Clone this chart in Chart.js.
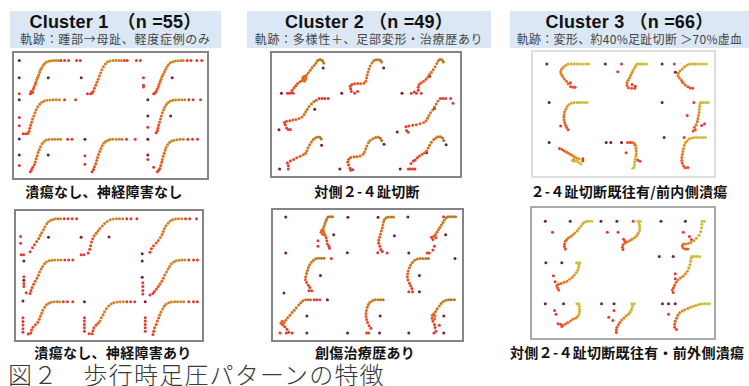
<!DOCTYPE html>
<html><head><meta charset="utf-8">
<script src="https://cdn.jsdelivr.net/npm/chart.js@4.4.1/dist/chart.umd.min.js"></script>
<style>
html,body{margin:0;padding:0;background:#fff;}
body{width:749px;height:386px;position:relative;overflow:hidden;font-family:"Noto Sans CJK JP","Liberation Sans",sans-serif;}
.hdr{position:absolute;background:#dbe7f4;height:37px;top:11px;}
.ttl{position:absolute;left:0;right:0;top:1px;text-align:center;font:bold 18px "Liberation Sans","Noto Sans CJK JP",sans-serif;line-height:20px;color:#111;letter-spacing:0.2px;}
.sub{position:absolute;left:0;right:0;top:21px;text-align:center;font:12px "Noto Sans CJK JP",sans-serif;line-height:14px;color:#444;letter-spacing:0.7px;white-space:nowrap;}
.pan{position:absolute;box-sizing:border-box;border:2px solid #858585;background:#fff;}
.pan canvas{display:block;}
.lab{position:absolute;width:300px;text-align:center;font:bold 14px "Noto Sans CJK JP",sans-serif;line-height:16px;color:#111;letter-spacing:0.3px;white-space:nowrap;}
.cap{position:absolute;left:8px;top:361px;font:24px "Noto Sans CJK JP",sans-serif;line-height:26px;color:#3a3a3a;letter-spacing:1.2px;white-space:nowrap;font-weight:300;}
</style></head>
<body>
<div class="hdr" style="left:10px;width:211px;"><div class="ttl">Cluster 1　（n =55）</div><div class="sub">軌跡：踵部→母趾、軽度症例のみ</div></div>
<div class="hdr" style="left:247px;width:244px;"><div class="ttl">Cluster 2 （n =49）</div><div class="sub">軌跡：多様性＋、足部変形・治療歴あり</div></div>
<div class="hdr" style="left:510px;width:239px;"><div class="ttl">Cluster 3 （n =66）</div><div class="sub" style="letter-spacing:0.3px">軌跡：変形、約40%足趾切断 ＞70%虚血</div></div>

<div class="pan" style="left:12px;top:51px;width:197px;height:129px;"><canvas id="p1a" width="193" height="125"></canvas></div>
<div class="pan" style="left:14px;top:209px;width:190px;height:133px;"><canvas id="p1b" width="186" height="129"></canvas></div>
<div class="pan" style="left:270px;top:51px;width:192px;height:127px;"><canvas id="p2a" width="188" height="123"></canvas></div>
<div class="pan" style="left:271px;top:208px;width:193px;height:134px;"><canvas id="p2b" width="189" height="130"></canvas></div>
<div class="pan" style="left:531px;top:50px;width:185px;height:128px;border-color:#dedede;"><canvas id="p3a" width="181" height="124"></canvas></div>
<div class="pan" style="left:530px;top:206px;width:186px;height:134px;border-color:#a9a9a9;"><canvas id="p3b" width="182" height="130"></canvas></div>

<div class="lab" style="left:-46px;top:183px;">潰瘍なし、神経障害なし</div>
<div class="lab" style="left:-37px;top:344px;">潰瘍なし、神経障害あり</div>
<div class="lab" style="left:217px;top:183px;">対側２-４趾切断</div>
<div class="lab" style="left:215px;top:344px;">創傷治療歴あり</div>
<div class="lab" style="left:479px;top:183px;">２-４趾切断既往有/前内側潰瘍</div>
<div class="lab" style="left:510px;top:344px;width:auto;text-align:left;">対側２-４趾切断既往有・前外側潰瘍</div>
<div class="cap">図２　歩行時足圧パターンの特徴</div>

<script>
// ---- data: each panel = 8 cells (TL,TC,TR,ML,MR,BL,BC,BR); points are flat x,y pairs in cell units (0-10) ----
const c1a_paths = [
 [2.0,0.55,2.2,0.8,2.4,1.0,2.15,1.2,2.5,1.8,2.6,2.4,2.8,3.0,2.9,3.5,3.05,4.2,3.2,4.8,3.35,5.4,3.5,6.1,3.65,6.7,3.85,7.2,4.05,7.8,4.3,8.3,4.6,8.7,5.0,8.9,5.4,9.05,5.8,9.1,6.2,9.1,6.55,9.1],
 [1.8,0.55,2.0,0.8,2.2,1.2,2.4,2.0,2.6,2.75,2.8,3.5,3.0,4.3,3.2,5.1,3.4,5.9,3.6,6.7,3.85,7.5,4.15,8.2,4.5,8.7,4.9,9.0,5.4,9.1,5.85,9.1,6.35,9.1,6.75,9.1],
 [2.0,0.55,2.25,0.8,2.4,1.2,2.6,1.8,2.75,2.45,2.9,3.1,3.05,3.7,3.2,4.3,3.35,5.0,3.55,5.6,3.75,6.2,3.95,6.85,4.15,7.5,4.4,8.0,4.7,8.5,5.1,8.8,5.5,9.0,5.95,9.05,6.4,9.1,6.8,9.1],
 [0.85,0.3,1.25,0.3,1.6,0.4,1.8,0.95,1.9,1.7,2.05,2.5,2.2,3.3,2.35,4.1,2.55,4.9,2.75,5.7,2.95,6.5,3.2,7.25,3.5,7.9,3.85,8.4,4.25,8.75,4.7,8.9,5.2,9.0,5.7,9.05,6.2,9.05,6.7,9.05],
 [2.4,0.55,2.6,1.1,2.7,1.75,2.8,2.5,2.95,3.3,3.1,4.1,3.25,4.9,3.4,5.7,3.6,6.45,3.8,7.15,4.05,7.8,4.35,8.35,4.7,8.75,5.1,8.9,5.55,9.0,6.05,9.05,6.55,9.05,7.05,9.05],
 [2.0,0.6,2.2,1.15,2.4,1.7,2.65,2.35,2.8,3.1,2.95,3.9,3.1,4.7,3.25,5.5,3.45,6.25,3.65,7.0,3.9,7.75,4.2,8.3,4.55,8.7,5.0,8.85,5.5,8.9,5.95,8.9,6.45,8.9,6.9,8.9],
 [2.0,0.6,2.25,1.15,2.4,1.85,2.6,2.65,2.75,3.45,2.9,4.2,3.05,5.0,3.25,5.8,3.45,6.55,3.65,7.25,3.9,7.9,4.2,8.35,4.55,8.65,4.95,8.85,5.4,8.9,5.95,8.9,6.45,8.9,6.9,8.9],
 [2.6,0.6,2.8,0.95,3.0,1.4,3.15,2.2,3.3,3.0,3.4,3.75,3.55,4.55,3.7,5.3,3.85,6.1,4.0,6.8,4.25,7.5,4.55,8.05,4.9,8.45,5.3,8.65,5.8,8.8,6.3,8.9,6.8,8.9]
];
const c1a_red = [
 [6.95,9.1,7.56,9.1,8.2,9.1,9.5,9.1,10.1,9.1,0.2,0.55],
 [1.27,0.55,7.25,9.1,7.7,9.1,9.2,9.1,9.85,9.1],
 [7.45,9.1,8.05,9.1,9.0,9.1,9.8,9.1,0.35,2.75,0.35,2.3,0.35,4.7],
 [7.55,9.05,9.35,9.05,0.2,4.5,0.2,2.35],
 [7.7,9.05,8.4,9.05,9.6,9.05,1.05,2.0],
 [8.05,8.9,8.75,8.9,0.2,2.2],
 [7.6,8.9,9.0,8.9,0.85,2.5,0.85,4.7],
 [7.55,8.9,8.3,8.9,9.1,8.9,1.05,3.7,2.0,1.7]
];
const c1a_dark = [
 [0.2,9.1,0.2,4.7,4.9,4.7],[0.25,4.7],[5.0,4.7],[0.2,9.05],
 [1.05,9.05,1.05,4.9,4.75,4.9],[0.2,9.0,0.2,4.85,4.9,4.85],[0.85,8.9],[1.05,8.9,1.05,4.85]
];

const c1b_paths = [
 [1.7,0.9,2.1,1.9,2.45,2.65,2.8,3.4,3.15,4.2,3.4,4.9,3.65,5.6,3.95,6.35,4.2,7.1,4.5,7.8,4.8,8.3,5.2,8.7,5.6,8.9,6.0,9.1,6.45,9.1,6.85,9.1],
 [1.5,0.6,1.75,1.5,1.9,2.4,2.05,3.3,2.25,4.1,2.5,4.85,2.85,5.45,3.15,6.05,3.45,6.65,3.85,7.3,4.25,7.9,4.7,8.4,5.2,8.8,5.7,9.0,6.25,9.1,6.75,9.1,7.3,9.1],
 [1.9,0.75,2.15,1.65,2.5,2.4,2.95,3.05,3.3,3.65,3.65,4.4,3.95,5.15,4.15,5.9,4.35,6.65,4.6,7.35,4.95,7.95,5.3,8.5,5.7,8.8,6.2,9.0,6.7,9.1,7.25,9.1],
 [1.7,0.55,1.85,1.3,2.05,2.05,2.3,2.8,2.55,3.55,2.85,4.3,3.1,5.05,3.3,5.85,3.55,6.6,3.8,7.25,4.1,7.9,4.45,8.35,4.9,8.65,5.35,8.8,5.85,8.85,6.4,8.85,6.9,8.85],
 [2.4,0.55,2.65,1.05,3.0,1.65,3.3,2.3,3.6,2.9,3.9,3.55,4.15,4.3,4.4,5.1,4.7,5.85,4.95,6.6,5.2,7.25,5.5,7.9,5.9,8.35,6.3,8.65,6.8,8.8,7.3,8.85,7.8,8.85],
 [1.8,0.75,1.95,1.5,2.2,2.2,2.6,2.8,3.0,3.4,3.25,4.15,3.45,4.9,3.65,5.65,3.85,6.4,4.15,7.15,4.45,7.75,4.85,8.1,5.25,8.35,5.7,8.5,6.2,8.5,6.65,8.5],
 [2.15,0.55,2.3,1.3,2.45,2.05,2.8,2.65,3.15,3.15,3.45,3.75,3.7,4.5,4.0,5.25,4.25,6.0,4.55,6.75,4.95,7.45,5.35,7.95,5.8,8.25,6.35,8.4,6.85,8.5,7.4,8.5],
 [2.4,0.4,2.55,1.15,2.7,2.05,2.95,2.85,3.15,3.7,3.35,4.45,3.55,5.2,3.75,5.95,4.05,6.7,4.3,7.35,4.6,7.9,5.05,8.25,5.5,8.4,6.05,8.5,6.55,8.5,7.1,8.5,7.6,8.5]
];
const c1b_red = [
 [7.45,9.1,8.1,9.1,8.8,9.1,9.55,9.1,0.1,4.7,0.1,3.0,0.2,0.15,0.6,0.15],
 [8.0,9.1,8.7,9.1,9.7,9.1,0.3,0.15,0.75,0.15],
 [7.9,9.1,8.6,9.1,9.75,9.1],
 [7.55,8.85,8.2,8.85,8.9,8.85,0.65,4.7,0.65,3.0,0.65,2.3,1.05,0.75],
 [8.45,8.85,9.25,8.85,9.9,8.85,0.7,3.2,0.7,2.3,0.7,1.3,0.7,0.4,1.9,0.15],
 [7.3,8.5,8.0,8.5,8.9,8.5,0.5,4.5,0.5,3.6,0.5,2.7,0.5,1.8,0.5,0.9,1.4,0.5],
 [8.0,8.5,8.65,8.5,9.35,8.5,0.85,4.5,0.85,3.7,0.85,2.85,0.85,2.05,0.85,1.15,1.65,0.55],
 [8.45,8.5,9.25,8.5,9.9,8.5,1.1,4.5,1.1,3.7,1.1,2.85,1.1,2.05,1.1,1.15]
];
const c1b_dark = [
 [4.8,4.5],[0.3,4.5,5.0,4.55],[0.6,0.4],[0.65,8.6,0.65,3.8],
 [0.6,8.6,0.6,4.55],[0.5,8.65],[0.85,8.5],[1.1,8.5]
];

const c2a_paths = [
 [2.2,0.55,2.5,0.7,2.7,1.35,3.0,2.0,3.3,2.5,3.6,3.1,4.0,3.55,4.35,3.9,4.6,4.2,4.45,4.6,4.7,5.0,4.95,4.75,4.95,4.2,4.75,3.7,5.1,5.3,5.4,5.9,5.7,6.55,6.0,7.2,6.35,7.8,6.65,8.4,6.9,9.05,7.2,9.3,7.5,9.3,7.75,9.0,7.95,8.45],
 [2.45,1.75,2.35,2.35,2.65,2.85,3.1,3.0,3.6,3.1,4.1,3.0,4.65,3.15,4.95,3.7,5.1,4.5,5.2,5.3,5.35,6.1,5.5,6.85,5.7,7.65,6.0,8.45,6.3,9.05,6.7,9.3,7.1,9.3,7.4,9.15,7.6,8.7],
 [3.7,1.35,3.7,2.1,3.85,2.85,4.2,3.3,4.6,3.7,5.0,4.2,5.3,4.8,5.55,5.45,5.9,6.05,6.2,6.7,6.5,7.45,6.8,8.3,7.05,9.0,7.35,9.4,7.7,9.25,7.9,8.7],
 [1.55,2.3,1.4,2.9,1.75,3.25,2.3,3.4,2.8,3.55,3.3,3.7,3.85,3.95,4.35,4.35,4.7,5.0,4.95,5.7,5.2,6.4,5.5,7.1,5.9,7.75,6.3,8.3,6.7,8.7],
 [1.65,1.8,2.15,2.0,2.8,2.2,3.4,2.35,4.0,2.6,4.6,2.9,5.0,3.4,5.25,4.0,5.5,4.75,5.75,5.45,6.1,6.15,6.4,6.95,6.7,7.75,7.0,8.5],
 [1.9,2.35,2.4,2.85,2.95,3.25,3.45,3.7,4.0,4.1,4.55,4.5,4.95,4.9,5.15,5.55,5.35,6.3,5.6,7.1,5.9,7.8,6.2,8.45,6.55,8.9,6.9,9.15,7.3,9.05,7.55,8.6],
 [2.35,1.0,2.1,1.8,1.95,2.6,2.1,3.3,2.45,3.8,3.0,3.95,3.5,4.0,4.0,4.2,4.5,4.6,4.75,5.2,4.95,6.0,5.15,6.8,5.4,7.6,5.7,8.2,6.15,8.7,6.6,9.0,7.05,9.1,7.4,8.8,7.6,8.2],
 [3.2,3.15,3.55,3.7,3.9,4.2,4.35,4.6,4.75,5.0,5.1,5.5,5.35,6.25,5.6,7.0,5.9,7.75,6.3,8.45,6.65,8.9,7.0,9.2,7.4,9.2,7.75,8.85,7.95,8.2]
];
const c2a_red = [
 [1.9,0.55,2.85,0.55],
 [2.55,1.0,3.1,0.55,3.6,1.0],
 [2.55,0.55,3.05,0.85,3.4,0.55,4.2,0.55],
 [1.75,1.5,2.05,1.1,2.4,1.1,7.2,9.15,7.7,9.15,8.15,9.15,8.7,9.15],
 [1.75,0.85,2.05,0.4,7.4,9.15,7.85,9.15,8.3,9.15,9.1,9.15,9.5,7.95],
 [2.05,0.8,2.05,1.6],
 [2.45,0.45,2.8,0.6],
 [2.05,0.8,2.4,0.8,2.8,0.8,3.15,0.8,2.5,2.2,2.9,2.85]
];
const c2a_dark = [
 [0.9,0.55,7.85,7.1],[0.95,0.55,7.95,7.1],[1.0,0.55,5.6,5.0],[0.5,1.0,6.45,6.4],
 [0.2,0.45,6.4,6.55],[0.6,0.8,7.6,6.95],[0.65,0.8,8.0,7.25],[0.7,0.8,5.1,5.0,8.35,7.1]
];

const c2b_paths = [
 [8.6,2.05,8.35,2.65,8.25,3.4,8.15,4.15,7.95,4.75,7.55,5.05,7.3,5.5,7.4,5.95,7.7,5.8,7.8,5.25,7.65,6.35,7.8,7.0,7.95,7.6,8.1,8.2,8.25,8.8,8.45,9.25,8.8,9.35,9.2,9.35],
 [7.2,1.3,7.05,2.05,6.85,2.8,6.85,3.55,7.0,4.3,7.15,5.05,7.3,5.8,7.45,6.55,7.55,7.3,7.65,8.05,7.8,8.65,8.1,9.1,8.45,9.25,8.85,9.25,9.3,9.25],
 [5.85,3.75,5.6,4.3,6.0,4.5,6.35,4.15,6.25,4.9,6.5,5.5,6.75,6.1,7.0,6.7,7.25,7.3,7.5,7.9,7.75,8.5,8.05,9.05,8.35,9.35,8.75,9.35,9.2,9.35,9.6,9.35],
 [5.3,1.15,5.45,1.9,5.2,2.5,4.9,3.15,4.7,3.85,4.75,4.6,4.9,5.35,5.05,6.1,5.2,6.85,5.4,7.55,5.7,8.15,6.05,8.65,6.45,9.05,6.9,9.1,7.35,9.1,7.8,9.1],
 [2.35,1.65,2.15,2.35,1.95,3.0,1.7,3.75,1.6,4.5,1.65,5.25,1.75,6.0,1.95,6.8,2.15,7.45,2.45,8.05,2.8,8.6,3.25,8.95,3.7,9.05,4.15,9.05,4.65,9.05,5.1,9.05],
 [1.95,0.9,1.65,1.65,1.3,2.25,0.95,2.7,0.65,3.15,0.85,3.6,1.2,3.25,1.45,3.9,1.75,4.5,2.15,5.1,2.5,5.75,2.85,6.35,3.2,6.95,3.6,7.6,3.95,8.2,4.3,8.65,4.75,8.9,5.15,8.9,5.55,8.9],
 [5.55,1.9,5.25,2.55,5.0,3.3,4.85,4.05,4.75,4.8,4.75,5.55,4.8,6.3,4.95,7.1,5.15,7.75,5.4,8.3,5.8,8.65,6.2,8.9,6.7,8.9,7.15,8.9,7.6,8.9],
 [6.2,2.1,6.1,2.85,5.85,3.6,5.7,4.35,5.75,5.1,6.0,5.5,6.2,4.9,6.1,4.15,6.3,6.05,6.55,6.7,6.9,7.4,7.2,8.0,7.55,8.5,8.0,8.8,8.45,8.9,8.9,8.9,9.4,8.9]
];
const c2b_red = [
 [6.8,3.4,6.8,2.05,8.7,1.6],
 [6.7,0.5,7.45,0.75,8.25,0.4],
 [4.9,0.4,5.25,0.4,5.85,1.15,6.1,2.05,7.6,9.35],
 [5.75,1.15,9.0,9.05],
 [1.85,0.9,2.45,0.9],
 [0.5,0.75,1.55,0.75,2.5,0.75,6.15,8.9,6.6,8.9,7.1,8.9],
 [4.85,0.75,5.2,0.75],
 [6.0,0.75,6.35,1.15,6.9,2.65]
];
const c2b_dark = [
 [1.45,9.25,1.45,0.4,9.4,4.9],[1.75,9.2,6.75,9.2,1.65,0.5,9.45,4.65],[1.7,9.25,1.85,0.4,7.95,4.9],[1.15,0.55,7.2,4.9],
 [3.6,0.9,3.6,4.9,9.5,9.05],[4.95,4.9,4.95,0.75,8.35,8.9],[1.7,0.75,7.1,4.9,7.0,0.75],[1.85,0.75,7.65,4.9,7.65,0.75]
];

const c3a_paths = [
 [6.6,1.9,6.2,1.9,5.8,2.1,5.4,2.8,5.1,3.45,4.75,4.05,4.45,4.7,4.2,5.3,4.1,5.95,4.25,6.55,4.55,7.1,4.95,7.55,5.4,7.9,5.95,7.95,6.45,7.95,7.0,7.95,7.5,7.95,8.05,7.95,8.6,7.95,9.0,7.95],
 [6.95,1.65,6.4,1.65,5.85,1.8,5.6,2.4,5.6,3.1,5.8,3.75,6.05,4.4,6.25,5.0,6.45,5.65,6.65,6.25,6.9,6.9,7.1,7.5,7.35,7.9,7.8,7.95,8.2,7.95,8.6,7.95,9.05,7.95],
 [7.0,1.65,6.55,1.7,6.15,2.05,5.7,2.5,5.35,3.05,5.05,3.7,4.7,4.3,4.45,4.9,4.5,5.55,4.8,6.1,5.2,6.65,5.6,7.2,6.05,7.65,6.5,7.9,7.0,7.95,7.45,7.95,7.95,7.95,8.4,7.95,8.9,7.95,9.35,7.95],
 [5.4,0.95,5.15,1.5,4.95,2.1,4.8,2.8,4.7,3.5,4.65,4.2,4.7,4.9,4.8,5.6,5.0,6.25,5.2,6.9,5.5,7.4,5.95,7.8,6.4,7.95,6.9,7.95,7.35,7.95,7.85,7.95,8.3,7.95,8.7,7.95],
 [7.1,0.6,7.45,0.95,7.3,1.55,7.6,2.25,7.8,3.05,7.9,3.85,8.0,4.6,8.1,5.4,8.15,6.15,8.2,6.95,8.25,7.65,8.4,7.95,8.85,7.95,9.25,7.95,9.7,7.95],
 [3.9,6.1,4.35,5.8,4.7,5.45,5.1,5.15,5.45,4.85,5.85,4.55,6.2,4.2,6.55,3.9,6.95,3.6,7.3,3.35,6.35,3.3,6.15,2.95,6.45,2.8,6.8,2.95,7.1,2.65,7.4,2.35,7.65,2.05],
 [5.7,7.6,6.1,7.6,6.45,7.6,6.85,7.4,7.05,6.9,7.15,6.15,7.2,5.45,7.2,4.75,7.15,4.05,7.05,3.35,6.95,2.65,6.9,1.95,6.85,1.25,6.6,0.95],
 [6.15,1.15,5.7,1.1,5.4,1.55,5.2,2.25,5.1,2.95,5.1,3.75,5.2,4.55,5.3,5.3,5.4,6.1,5.55,6.9,5.75,7.6,6.05,8.1,6.4,8.6,6.85,8.8,7.3,8.9,7.8,8.9,8.25,8.9,8.75,8.9,9.2,8.9]
];
const c3a_red = [
 [5.8,3.1],[4.65,7.9,4.0,5.9,6.5,2.6,7.05,2.2],[3.8,7.9,5.25,3.15],[4.1,1.9],
 [7.2,7.95,6.05,4.6,8.55,2.05,9.05,2.5],[7.95,3.45,7.95,2.9],[5.45,5.0,7.45,3.1,7.85,2.8],[5.5,8.9]
];
const c3a_dark = [
 [1.7,7.9],[1.85,7.9],[1.7,7.9,4.0,5.8],[2.1,7.95],
 [1.7,7.95],[2.1,7.6],[2.0,7.6,2.8,7.6,4.65,7.6],[2.05,8.9]
];

const c3b_paths = [
 [5.05,0.9,4.9,1.5,4.9,2.15,5.05,2.8,5.3,3.25,5.6,3.65,6.0,4.0,6.35,4.4,6.7,4.85,7.1,5.35,7.4,5.95,7.75,6.55,8.05,7.1,8.35,7.5,8.75,7.75,9.15,7.75,9.6,7.75],
 [5.0,0.75,4.9,1.35,5.0,1.95,5.35,2.4,5.75,2.7,6.2,3.0,6.6,3.35,7.05,3.75,7.4,4.2,7.65,4.8,7.85,5.45,7.9,6.15,7.85,6.8,7.75,7.4,7.6,7.75,8.0,7.75],
 [6.15,0.9,5.7,0.9,5.35,1.2,5.2,1.7,5.4,2.15,5.8,2.15,6.25,2.25,6.7,2.5,7.2,2.95,7.65,3.55,8.1,4.3,8.4,5.2,8.55,6.1,8.6,7.0,8.65,7.7,9.05,7.75],
 [3.9,0.8,3.7,1.35,3.6,1.95,3.9,2.25,4.35,2.4,4.85,2.7,5.35,3.0,5.8,3.45,6.25,3.95,6.6,4.5,6.95,5.1,7.2,5.75,7.35,6.4,7.4,7.0,7.25,7.45,7.0,7.55,7.6,7.55],
 [3.65,0.2,3.5,0.8,3.7,1.4,3.9,2.0,4.15,2.7,4.45,3.3,4.9,3.75,5.35,4.2,5.75,4.8,6.1,5.45,6.35,6.2,6.55,7.0,6.65,7.9,6.75,8.65,6.9,9.05,7.35,9.05,7.75,9.05,8.2,9.05],
 [4.45,1.85,4.25,2.4,4.65,2.15,5.1,2.45,5.5,2.85,5.95,3.2,6.35,3.6,6.8,3.9,7.15,4.25,7.4,4.8,7.5,5.45,7.5,6.1,7.45,6.8,7.35,7.3,7.05,7.45,7.4,7.45],
 [3.85,0.35,3.85,1.05,3.95,1.65,4.2,2.25,4.45,2.85,4.75,3.45,5.15,3.95,5.5,4.4,5.9,4.85,6.2,5.35,6.45,5.95,6.6,6.65,6.7,7.25,6.95,7.45,6.5,7.45],
 [4.2,1.1,3.9,1.65,3.9,2.4,4.0,3.15,4.25,3.9,4.45,4.6,4.75,5.2,5.2,5.65,5.65,5.95,6.15,6.25,6.6,6.55,7.1,6.8,7.55,7.0,8.05,7.25,8.5,7.4,9.0,7.45,9.45,7.45,9.9,7.45]
];
const c3b_red = [
 [2.85,5.0],[6.75,7.75,2.3,5.0,4.15,5.0,5.1,3.3,5.35,2.75],[5.4,5.0,6.45,4.0,6.8,3.25],[3.0,4.35,3.3,2.85],
 [4.0,4.8,4.0,3.6],[3.2,5.8,3.45,4.85,3.8,2.55],[3.45,5.75,2.55,4.1,3.25,3.35],[2.85,4.85]
];
const c3b_dark = [
 [1.6,7.75,5.9,7.75],[1.2,7.75,3.95,7.75],[1.55,7.75,5.75,7.75],[1.7,7.55,4.45,7.55],
 [1.25,9.05,3.65,9.05],[1.6,7.45,4.75,7.45],[1.3,7.45,3.45,7.45],[1.8,7.45,2.85,7.45,4.0,7.45]
];

// ---- drawing ----
const CELL_OFF = [[0,20],[10,20],[20,20],[0,10],[20,10],[0,0],[10,0],[20,0]];
const WARM = [[236,56,34],[230,104,28],[214,130,34],[196,140,44]];
const WARM2 = [[236,56,34],[228,102,28],[205,120,32],[180,118,36]];
const YEL = [[234,70,34],[228,120,30],[214,170,40],[200,200,60]];
const DARK = '#7a1e36', RED = '#e23b37';

function pts(flat, cell){
  const o = CELL_OFF[cell], out = [];
  for (let i = 0; i < flat.length; i += 2) out.push({x: flat[i] + o[0], y: flat[i+1] + o[1]});
  return out;
}
function grad(stops, t){
  const s = (stops.length - 1) * t, i = Math.min(Math.floor(s), stops.length - 2), f = s - i;
  const c = stops[i].map((v, k) => Math.round(v + (stops[i+1][k] - v) * f));
  return 'rgb(' + c.join(',') + ')';
}
function panel(id, paths, reds, darks, stops){
  const ds = [];
  for (let c = 0; c < 8; c++){
    const p = pts(paths[c], c);
    ds.push({data: p, pointBackgroundColor: p.map((_, i) => grad(stops, i / Math.max(1, p.length - 1)))});
    ds.push({data: pts(reds[c], c), pointBackgroundColor: RED});
    ds.push({data: pts(darks[c], c), pointBackgroundColor: DARK});
  }
  ds.forEach(d => { d.pointRadius = 1.5; d.pointBorderWidth = 0; d.showLine = false; d.clip = false; });
  new Chart(document.getElementById(id), {
    type: 'scatter',
    data: {datasets: ds},
    options: {
      responsive: false, animation: false, devicePixelRatio: 1, events: [],
      layout: {padding: 0},
      plugins: {legend: {display: false}, tooltip: {enabled: false}},
      scales: {
        x: {type: 'linear', min: 0, max: 30, display: false},
        y: {type: 'linear', min: 0, max: 30, display: false}
      }
    }
  });
}
panel('p1a', c1a_paths, c1a_red, c1a_dark, WARM);
panel('p1b', c1b_paths, c1b_red, c1b_dark, WARM);
panel('p2a', c2a_paths, c2a_red, c2a_dark, WARM2);
panel('p2b', c2b_paths, c2b_red, c2b_dark, WARM2);
panel('p3a', c3a_paths, c3a_red, c3a_dark, YEL);
panel('p3b', c3b_paths, c3b_red, c3b_dark, YEL);
</script>
</body></html>
